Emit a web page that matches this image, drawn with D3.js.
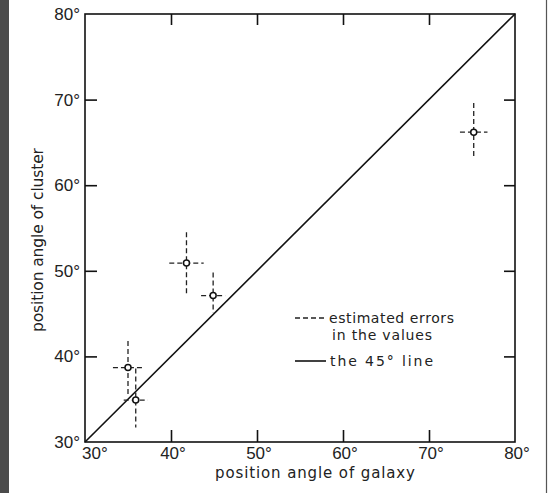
<!DOCTYPE html>
<html>
<head>
<meta charset="utf-8">
<script src="https://cdn.jsdelivr.net/npm/d3@7"></script>
<style>
  body { margin: 0; background: #fff; }
  svg { display: block; }
</style>
</head>
<body>
<div id="chart"></div>
<script>
// values (degrees)
const galaxyAngle  = [35.0, 35.9, 41.8, 44.9, 75.2];
const clusterAngle = [38.7, 34.9, 50.9, 47.1, 66.2];
const galaxyErr    = [1.75, 1.4, 2.0, 1.4, 1.6];
const clusterErrUp = [3.1, 3.7, 3.6, 2.7, 3.4];
const clusterErrDn = [3.1, 3.2, 3.6, 2.0, 3.0];

const tickValues = [30, 40, 50, 60, 70, 80];
const innerTicks = [40, 50, 60, 70];

const W = 550, H = 493;
const margin = { top: 14, left: 85, right: 35, bottom: 51 };
const width = W - margin.left - margin.right;
const height = H - margin.top - margin.bottom;

const svg = d3.select("#chart").append("svg")
    .attr("width", W)
    .attr("height", H);

// scan border
svg.append("rect").attr("x", 0).attr("y", 0).attr("width", 9).attr("height", H).attr("fill", "#4b4b4b");
svg.append("line").attr("x1", 546.5).attr("x2", 546.5).attr("y1", 0).attr("y2", H)
    .attr("stroke", "#555").attr("stroke-width", 1.2);

const x = d3.scaleLinear().domain([30, 80]).range([0, width]);
const y = d3.scaleLinear().domain([30, 80]).range([height, 0]);

const g = svg.append("g").attr("transform", `translate(${margin.left},${margin.top})`);

const tickFont = "'Liberation Sans', Arial, sans-serif";
const labelFont = "'DejaVu Sans', sans-serif";

// inward ticks on all four sides, no axis text from d3
const axisStyle = sel => {
    sel.select(".domain").remove();
    sel.selectAll("text").remove();
    sel.selectAll("line").attr("stroke", "#111").attr("stroke-width", 1.6);
};
g.append("g").attr("transform", `translate(0,${height})`)
    .call(d3.axisBottom(x).tickValues(innerTicks).tickSizeInner(-12)).call(axisStyle);
g.append("g")
    .call(d3.axisTop(x).tickValues(innerTicks).tickSizeInner(-11)).call(axisStyle);
g.append("g")
    .call(d3.axisLeft(y).tickValues(innerTicks).tickSizeInner(-12)).call(axisStyle);
g.append("g").attr("transform", `translate(${width},0)`)
    .call(d3.axisRight(y).tickValues(innerTicks).tickSizeInner(-11)).call(axisStyle);

// frame
g.append("rect").attr("width", width).attr("height", height)
    .attr("fill", "none").attr("stroke", "#111").attr("stroke-width", 1.6);

// tick labels (first bottom label nudged right, clear of the left one)
g.selectAll(".xl").data(tickValues).enter().append("text")
    .attr("x", d => d === 30 ? x(d) - 3 : x(d) + 2)
    .attr("y", height + 17)
    .attr("text-anchor", d => d === 30 ? "start" : "middle")
    .attr("font-family", tickFont)
    .attr("font-size", 17)
    .attr("fill", "#222")
    .text(d => d + "°");

g.selectAll(".yl").data(tickValues).enter().append("text")
    .attr("x", -5)
    .attr("y", d => y(d) + 6)
    .attr("text-anchor", "end")
    .attr("font-family", tickFont)
    .attr("font-size", 17)
    .attr("fill", "#222")
    .text(d => d + "°");

// axis titles
svg.append("text")
    .attr("x", 215).attr("y", 478)
    .attr("font-family", labelFont).attr("font-size", 15)
    .attr("textLength", 200).attr("lengthAdjust", "spacing")
    .attr("fill", "#222")
    .text("position angle of galaxy");

svg.append("text")
    .attr("transform", "translate(43,332) rotate(-90)")
    .attr("font-family", labelFont).attr("font-size", 15.5)
    .attr("textLength", 184).attr("lengthAdjust", "spacing")
    .attr("fill", "#222")
    .text("position angle of cluster");

// the 45 degree line
g.append("line")
    .attr("x1", x(30)).attr("y1", y(30))
    .attr("x2", x(80)).attr("y2", y(80))
    .attr("stroke", "#111").attr("stroke-width", 1.6);

// error bars
const pts = galaxyAngle.map((gx, i) => ({
    gx, cy: clusterAngle[i], ex: galaxyErr[i], up: clusterErrUp[i], dn: clusterErrDn[i]
}));

const bars = g.append("g")
    .attr("stroke", "#222").attr("stroke-width", 1.3).attr("stroke-dasharray", "5,3");

bars.selectAll(".eh").data(pts).enter().append("line")
    .attr("x1", d => x(d.gx - d.ex)).attr("x2", d => x(d.gx + d.ex))
    .attr("y1", d => y(d.cy)).attr("y2", d => y(d.cy));

bars.selectAll(".ev").data(pts).enter().append("line")
    .attr("x1", d => x(d.gx)).attr("x2", d => x(d.gx))
    .attr("y1", d => y(d.cy + d.up)).attr("y2", d => y(d.cy - d.dn));

g.selectAll(".pt").data(pts).enter().append("circle")
    .attr("cx", d => x(d.gx)).attr("cy", d => y(d.cy))
    .attr("r", 3)
    .attr("fill", "#fff").attr("stroke", "#111").attr("stroke-width", 1.5);

// legend
const legend = svg.append("g").attr("font-family", labelFont).attr("font-size", 14).attr("fill", "#222");
legend.append("line").attr("x1", 295).attr("x2", 327).attr("y1", 318).attr("y2", 318)
    .attr("stroke", "#222").attr("stroke-width", 1.3).attr("stroke-dasharray", "5,3");
legend.append("text").attr("x", 329).attr("y", 323)
    .attr("textLength", 125).attr("lengthAdjust", "spacing").text("estimated errors");
legend.append("text").attr("x", 332).attr("y", 340)
    .attr("textLength", 100).attr("lengthAdjust", "spacing").text("in the values");
legend.append("line").attr("x1", 295).attr("x2", 326).attr("y1", 361).attr("y2", 361)
    .attr("stroke", "#111").attr("stroke-width", 1.6);
legend.append("text").attr("x", 330).attr("y", 366)
    .attr("textLength", 103).attr("lengthAdjust", "spacing").text("the 45° line");
</script>
</body>
</html>
